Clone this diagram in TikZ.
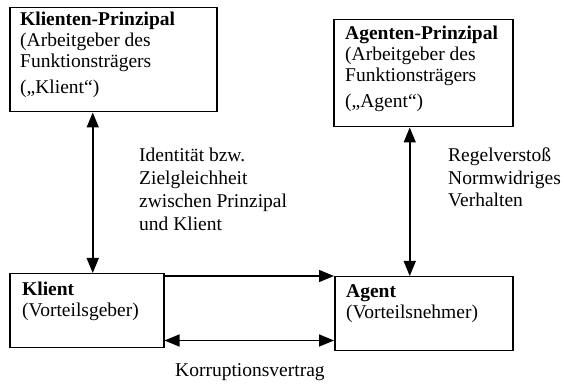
\documentclass[tikz,border=0pt]{standalone}
\usepackage{fontspec}
\setmainfont{Liberation Serif}
\usetikzlibrary{arrows.meta,calc}
\tikzset{
  box/.style={draw, line width=1.5pt, inner sep=0pt, anchor=north west},
  txt/.style={inner sep=0pt, anchor=base west, align=left, font=\fontsize{19.5}{21}\selectfont},
  conn/.style={line width=1.6pt, -{Triangle[length=15pt,width=12pt]}},
  dconn/.style={line width=1.6pt, {Triangle[length=15pt,width=12pt]}-{Triangle[length=15pt,width=12pt]}},
}
\begin{document}
\begin{tikzpicture}[x=1pt,y=-1pt]
\useasboundingbox (0,0) rectangle (566,390);
% boxes
\node[box, minimum width=207pt, minimum height=104pt] (kp) at (9,7) {};
\node[box, minimum width=179pt, minimum height=107pt] (ap) at (333,19) {};
\node[box, minimum width=154pt, minimum height=74pt] (kl) at (9,273) {};
\node[box, minimum width=178pt, minimum height=74pt] (ag) at (334,276) {};
% box texts (anchored at the baseline of their last line)
\node[txt] (kpT) at (20,94) {\textbf{Klienten-Prinzipal}\\(Arbeitgeber des\\Funktionsträgers\\[5pt](„Klient“)};
\node[txt] (apT) at (345,108) {\textbf{Agenten-Prinzipal}\\(Arbeitgeber des\\Funktionsträgers\\[5pt](„Agent“)};
\node[txt] (klT) at (22,317) {\textbf{Klient}\\(Vorteilsgeber)};
\node[txt] (agT) at (346,319) {\textbf{Agent}\\(Vorteilsnehmer)};
% labels
\node[txt, font=\fontsize{19.5}{23}\selectfont] (idT) at (139,231) {Identität bzw.\\Zielgleichheit\\zwischen Prinzipal\\und Klient};
\node[txt, font=\fontsize{19.5}{22.5}\selectfont] (rgT) at (448,207) {Regelverstoß\\Normwidriges\\Verhalten};
\node[txt] (korr) at (175,377) {Korruptionsvertrag};
% connectors
\draw[dconn] ([xshift=6pt]kl.north) -- ([xshift=6pt]kl.north |- kp.south);
\draw[dconn] ([xshift=-14pt]ag.north) -- ([xshift=-14pt]ag.north |- ap.south);
\draw[conn] (kl.east |- ag.north west) -- (ag.north west);
\draw[dconn] ([yshift=8pt]kl.south east) -- ([yshift=8pt]kl.south east -| ag.west);
\end{tikzpicture}
\end{document}
